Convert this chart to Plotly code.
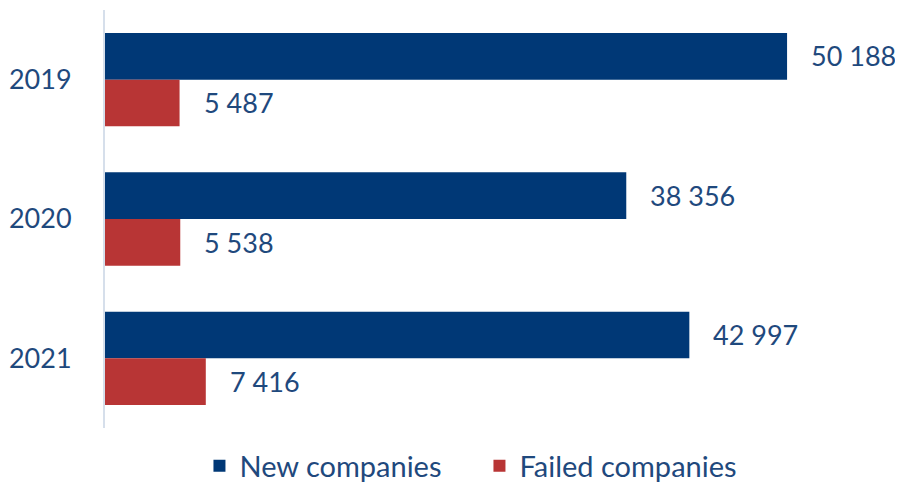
import plotly.graph_objects as go

years = ["2019", "2020", "2021"]
new_companies = [50188, 38356, 42997]
failed_companies = [5487, 5538, 7416]

TEXT = "#1F497D"
BLUE = "#003876"
RED = "#B83535"
FONT = "Lato"


def fmt(v):
    return f"{v:,}".replace(",", " ")


fig = go.Figure()
fig.add_bar(name="New companies", y=years, x=new_companies, orientation="h",
            marker_color=BLUE, marker_line_width=0)
fig.add_bar(name="Failed companies", y=years, x=failed_companies, orientation="h",
            marker_color=RED, marker_line_width=0)

# value labels just past the bar ends (y given as category index)
for i in range(len(years)):
    fig.add_annotation(x=new_companies[i], y=i, text=fmt(new_companies[i]),
                       xanchor="left", yanchor="middle", xshift=22, yshift=24,
                       showarrow=False, font=dict(size=27, color=TEXT, family=FONT))
    fig.add_annotation(x=failed_companies[i], y=i, text=fmt(failed_companies[i]),
                       xanchor="left", yanchor="middle", xshift=22, yshift=-23,
                       showarrow=False, font=dict(size=27, color=TEXT, family=FONT))

# page body has an 8px margin all round, so the figure is smaller than the window
fig.update_layout(
    width=887, height=483,
    margin=dict(l=97, r=0, t=2, b=63, autoexpand=False),
    barmode="group",
    bargap=0.33,
    bargroupgap=0,
    plot_bgcolor="white",
    paper_bgcolor="white",
    font=dict(family=FONT, size=27, color=TEXT),
    legend=dict(orientation="h", x=0.474, xanchor="center",
                yref="container", y=0.052, yanchor="middle",
                font=dict(size=29, color=TEXT), entrywidth=235,
                traceorder="normal"),
)
fig.update_xaxes(range=[0, 58130], showgrid=False, zeroline=False,
                 showticklabels=False, showline=False)
fig.update_yaxes(type="category", range=[2.5, -0.5], showgrid=False, showline=True,
                 linecolor="#D6DFEB", linewidth=2, ticks="", ticklabelstandoff=26,
                 tickfont=dict(size=27, color=TEXT))

fig.write_html("out.html")
